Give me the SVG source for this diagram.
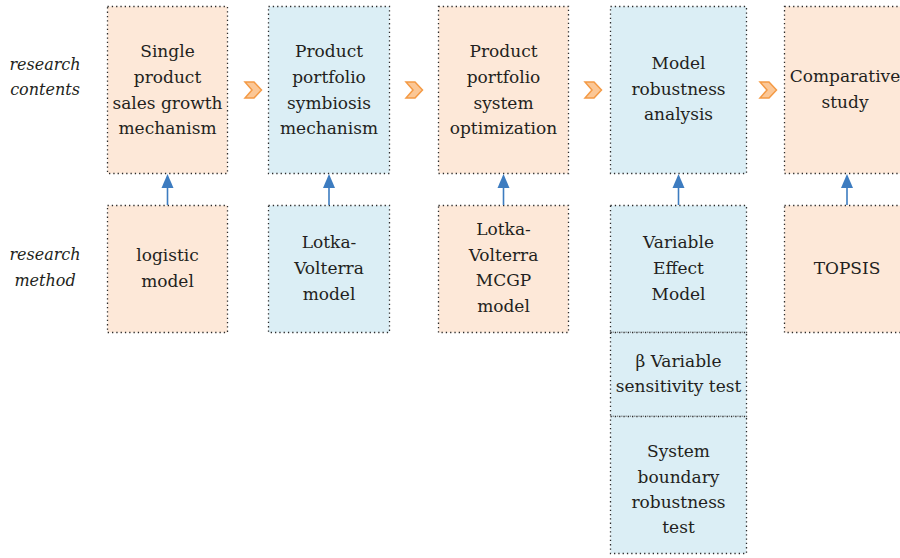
<svg xmlns="http://www.w3.org/2000/svg" width="900" height="558" viewBox="0 0 900 558">
<style>
.bx{stroke:#2b2b2b;stroke-width:1.3;stroke-dasharray:1.3 3;}
.pe{fill:#fde8d8;}
.bl{fill:#dbeef5;}
.t{font-family:'DejaVu Serif',serif;font-size:17px;fill:#231f20;text-anchor:middle;}
.lb{font-family:'DejaVu Serif',serif;font-size:16px;font-style:italic;fill:#231f20;text-anchor:middle;}
.ch{fill:#fbc796;stroke:#f49a45;stroke-width:1.5;stroke-linejoin:miter;}
.ar{stroke:#3d7cc0;stroke-width:1.6;fill:none;}
.ah{fill:#3d7cc0;}
</style>
<rect width="900" height="558" fill="#ffffff"/>
<g id="labels">
<text class="lb" x="45" y="70">research</text>
<text class="lb" x="45" y="95">contents</text>
<text class="lb" x="45" y="260">research</text>
<text class="lb" x="45" y="286">method</text>
</g>
<g id="c1"><rect class="bx pe" x="107.5" y="6.5" width="120" height="167"/>
<text class="t" x="167.5" y="57">Single</text><text class="t" x="167.5" y="83">product</text><text class="t" x="167.5" y="109">sales growth</text><text class="t" x="167.5" y="134">mechanism</text></g>
<g id="c2"><rect class="bx bl" x="268.5" y="6.5" width="121" height="167"/>
<text class="t" x="329" y="57">Product</text><text class="t" x="329" y="83">portfolio</text><text class="t" x="329" y="109">symbiosis</text><text class="t" x="329" y="134">mechanism</text></g>
<g id="c3"><rect class="bx pe" x="438.5" y="6.5" width="130" height="167"/>
<text class="t" x="503.5" y="57">Product</text><text class="t" x="503.5" y="83">portfolio</text><text class="t" x="503.5" y="109">system</text><text class="t" x="503.5" y="134">optimization</text></g>
<g id="c4"><rect class="bx bl" x="610.5" y="6.5" width="136" height="167"/>
<text class="t" x="678.5" y="69">Model</text><text class="t" x="678.5" y="95">robustness</text><text class="t" x="678.5" y="120">analysis</text></g>
<g id="c5"><rect class="bx pe" x="784.5" y="6.5" width="130" height="167"/>
<text class="t" x="845" y="82">Comparative</text><text class="t" x="845" y="108">study</text></g>
<g id="m1"><rect class="bx pe" x="107.5" y="205.5" width="120" height="127"/>
<text class="t" x="167.5" y="261">logistic</text><text class="t" x="167.5" y="287">model</text></g>
<g id="m2"><rect class="bx bl" x="268.5" y="205.5" width="121" height="127"/>
<text class="t" x="329" y="248">Lotka-</text><text class="t" x="329" y="274">Volterra</text><text class="t" x="329" y="300">model</text></g>
<g id="m3"><rect class="bx pe" x="438.5" y="205.5" width="130" height="127"/>
<text class="t" x="503.5" y="235">Lotka-</text><text class="t" x="503.5" y="261">Volterra</text><text class="t" x="503.5" y="286">MCGP</text><text class="t" x="503.5" y="312">model</text></g>
<g id="m4a"><rect class="bx bl" x="610.5" y="205.5" width="136" height="127"/>
<text class="t" x="678.5" y="248">Variable</text><text class="t" x="678.5" y="274">Effect</text><text class="t" x="678.5" y="300">Model</text></g>
<g id="m4b"><rect class="bx bl" x="610.5" y="332.5" width="136" height="84"/>
<text class="t" x="678.5" y="367">β Variable</text><text class="t" x="678.5" y="392">sensitivity test</text></g>
<g id="m4c"><rect class="bx bl" x="610.5" y="416.5" width="136" height="137"/>
<text class="t" x="678.5" y="457">System</text><text class="t" x="678.5" y="483">boundary</text><text class="t" x="678.5" y="508">robustness</text><text class="t" x="678.5" y="533">test</text></g>
<g id="m5"><rect class="bx pe" x="784.5" y="205.5" width="130" height="127"/>
<text class="t" x="847" y="274">TOPSIS</text></g>
<g id="connectors">
<polygon class="ch" points="245,82 254,82 261.5,90 254,98 245,98 252,90"/>
<polygon class="ch" points="406,82 415,82 422.5,90 415,98 406,98 413,90"/>
<polygon class="ch" points="585,82 594,82 601.5,90 594,98 585,98 592,90"/>
<polygon class="ch" points="760,82 769,82 776.5,90 769,98 760,98 767,90"/>
<g>
<line class="ar" x1="167.5" y1="205" x2="167.5" y2="186"/><polygon class="ah" points="167.5,174 173.5,188 161.5,188"/>
<line class="ar" x1="329" y1="205" x2="329" y2="186"/><polygon class="ah" points="329,174 335,188 323,188"/>
<line class="ar" x1="503.5" y1="205" x2="503.5" y2="186"/><polygon class="ah" points="503.5,174 509.5,188 497.5,188"/>
<line class="ar" x1="678.5" y1="205" x2="678.5" y2="186"/><polygon class="ah" points="678.5,174 684.5,188 672.5,188"/>
<line class="ar" x1="847" y1="205" x2="847" y2="186"/><polygon class="ah" points="847,174 853,188 841,188"/>
</g>
</g>
</svg>
